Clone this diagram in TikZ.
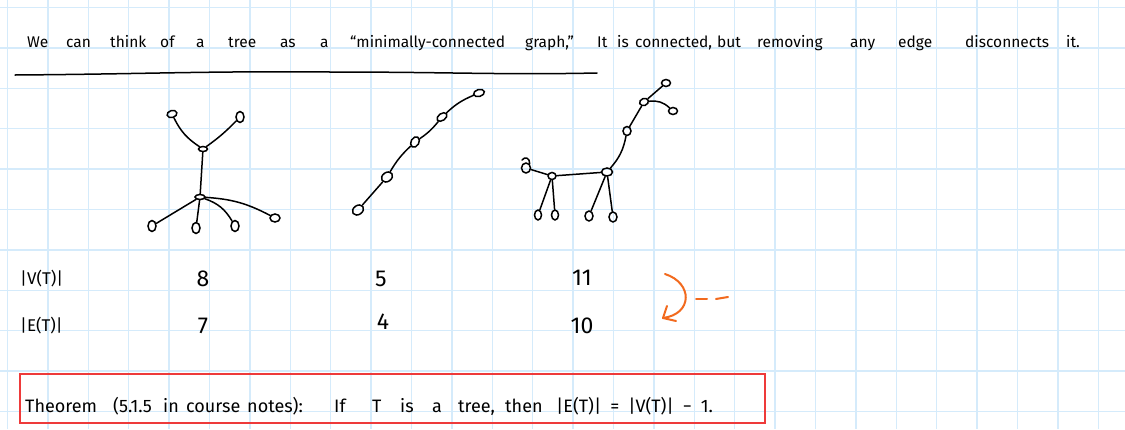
\documentclass[tikz,border=0pt]{standalone}
\usepackage{fontspec}
\setmainfont{Fira Sans}
\usetikzlibrary{shapes.geometric}
\definecolor{gridblue}{HTML}{D5EBFB}
\definecolor{penorange}{HTML}{F26A1E}
\definecolor{boxred}{HTML}{EE3A3A}
\begin{document}
\begin{tikzpicture}[x=1pt,y=-1pt,
  gridline/.style={draw=gridblue,line width=1.3pt},
  vtx/.style={draw,ellipse,line width=1.5pt,minimum width=9pt,minimum height=6pt,inner sep=0pt},
  edge/.style={line width=1.5pt,line cap=round},
  word/.style={anchor=base west,inner sep=0pt,font=\fontsize{15.5}{17}\selectfont},
  rowlabel/.style={anchor=west,inner sep=0pt,font=\fontsize{17}{19}\selectfont},
  digit/.style={anchor=center,inner sep=0pt,font=\fontsize{23}{25}\selectfont},
  thm/.style={anchor=base west,inner sep=0pt,font=\fontsize{18}{20}\selectfont},
  orangepen/.style={draw=penorange,line width=2pt,line cap=round,line join=round}]
\useasboundingbox (0,0) rectangle (1125,429);
\fill[white] (0,0) rectangle (1125,429);
% grid
\foreach \i in {0,...,27} \draw[gridline] ({7.5+40.4*\i},0) -- ({7.5+40.4*\i},429);
\foreach \j in {0,...,10} \draw[gridline] (0,{7.5+40.4*\j}) -- (1125,{7.5+40.4*\j});

% title sentence
\node[word] (w1) at (27,47) {We};
\node[word] (w2) at (66,47) {can};
\node[word] (w3) at (110,47) {think};
\node[word] (w4) at (160,47) {of};
\node[word] (w5) at (196,47) {a};
\node[word] (w6) at (228,47) {tree};
\node[word] (w7) at (280,47) {as};
\node[word] (w8) at (320,47) {a};
\node[word] (w9) at (350,47) {“minimally-connected};
\node[word] (w10) at (525,47) {graph,”};
\node[word] (w11) at (597,47) {It};
\node[word] (w12) at (617,47) {is};
\node[word] (w13) at (635,47) {connected,};
\node[word] (w14) at (717,47) {but};
\node[word] (w15) at (757,47) {removing};
\node[word] (w16) at (850,47) {any};
\node[word] (w17) at (898,47) {edge};
\node[word] (w18) at (965,47) {disconnects};
\node[word] (w19) at (1066,47) {it.};
\draw[line width=1.5pt,line cap=round] (15,75) .. controls (150,74) and (200,71) .. (330,72) .. controls (450,72) and (500,75) .. (597,73);

% tree 1
\node[vtx,rotate=15,minimum width=10pt,minimum height=7pt] (a1) at (172,114) {};
\node[vtx,minimum width=8pt,minimum height=11pt] (a2) at (240,117) {};
\node[vtx,minimum width=9pt,minimum height=5pt] (a3) at (203,149) {};
\node[vtx,minimum width=10pt,minimum height=5pt] (a4) at (200,197) {};
\node[vtx,minimum width=8pt,minimum height=11pt] (a5) at (152,226) {};
\node[vtx,minimum width=8pt,minimum height=11pt] (a6) at (196,228) {};
\node[vtx,minimum width=8pt,minimum height=11pt] (a7) at (235,226) {};
\node[vtx,minimum width=10pt,minimum height=8pt] (a8) at (275,218) {};
\draw[edge] (a1) to[bend right=15] (a3);
\draw[edge] (a2) to[bend left=5] (a3);
\draw[edge] (a3) -- (a4);
\draw[edge] (a4) -- (a5);
\draw[edge] (a4) -- (a6);
\draw[edge] (a4) to[bend left=20] (a7);
\draw[edge] (a4) to[bend left=12] (a8);

% tree 2
\node[vtx,rotate=35,minimum width=12pt,minimum height=9pt] (b1) at (358,210) {};
\node[vtx,rotate=35,minimum width=12pt,minimum height=9pt] (b2) at (387,177) {};
\node[vtx,rotate=60,minimum width=11pt,minimum height=8pt] (b3) at (415,142) {};
\node[vtx,rotate=35,minimum width=11pt,minimum height=7pt] (b4) at (442,117) {};
\node[vtx,rotate=15,minimum width=11pt,minimum height=7pt] (b5) at (479,93) {};
\draw[edge] (b1) -- (b2);
\draw[edge] (b2) to[bend left=8] (b3);
\draw[edge] (b3) to[bend right=8] (b4);
\draw[edge] (b4) to[bend left=10] (b5);

% tree 3
\node[vtx,minimum width=9pt,minimum height=7pt] (c1) at (666,83) {};
\node[vtx,rotate=20,minimum width=9pt,minimum height=7pt] (c2) at (644,102) {};
\node[vtx,minimum width=9pt,minimum height=7pt] (c3) at (673,111) {};
\node[vtx,minimum width=8pt,minimum height=9pt] (c4) at (627,131) {};
\node[vtx,minimum width=11pt,minimum height=8pt] (c5) at (607,172) {};
\node[vtx,minimum width=8pt,minimum height=7pt] (c6) at (552,176) {};
\node[vtx,minimum width=9pt,minimum height=10pt] (c7) at (526,168) {};
\node[vtx,minimum width=7pt,minimum height=10pt] (c8) at (538,215) {};
\node[vtx,minimum width=7pt,minimum height=10pt] (c9) at (555,215) {};
\node[vtx,minimum width=8pt,minimum height=10pt] (c10) at (589,216) {};
\node[vtx,minimum width=8pt,minimum height=10pt] (c11) at (613,217) {};
\draw[edge] (522,160) .. controls (525,156) and (530,158) .. (c7.north east);
\draw[edge] (c7) -- (c6);
\draw[edge] (c6) -- (c5);
\draw[edge] (c5) to[bend right=15] (c4);
\draw[edge] (c4) -- (c2);
\draw[edge] (c2) -- (c1);
\draw[edge] (c2) to[bend left=25] (c3);
\draw[edge] (c6) -- (c8);
\draw[edge] (c6) -- (c9);
\draw[edge] (c5) -- (c10);
\draw[edge] (c5) -- (c11);

% counts
\node[rowlabel] (vl) at (20,279) {|V(T)|};
\node[rowlabel] (el) at (20,326) {|E(T)|};
\node[digit] (n1) at (203,279) {8};
\node[digit] (n2) at (203,326) {7};
\node[digit] (n3) at (381,279) {5};
\node[digit] (n4) at (383,322) {4};
\node[digit] (n5) at (582,278) {11};
\node[digit] (n6) at (582,326) {10};

% orange arrow
\coordinate (o1) at (665,274);
\coordinate (o2) at (663,318);
\draw[orangepen] (o1) .. controls (693,283) and (693,314) .. (o2);
\draw[orangepen] (667,306) -- (o2) -- (676,321);
\draw[orangepen] (696,299) -- (707,299);
\draw[orangepen] (716,299) -- (728,297);

% theorem box
\draw[draw=boxred,line width=2.7pt] (20,374) rectangle (765,423);
\node[thm] (t1) at (25,412) {Theorem};
\node[thm] (t2) at (113,412) {(5.1.5};
\node[thm] (t3) at (163,412) {in};
\node[thm] (t4) at (186,412) {course};
\node[thm] (t5) at (247,412) {notes):};
\node[thm] (t6) at (334,412) {If};
\node[thm] (t7) at (372,412) {T};
\node[thm] (t8) at (400,412) {is};
\node[thm] (t9) at (432,412) {a};
\node[thm] (t10) at (458,412) {tree,};
\node[thm] (t11) at (505,412) {then};
\node[thm] (t12) at (556,412) {|E(T)|\enspace=\enspace|V(T)|\enspace−\enspace1.};
\end{tikzpicture}
\end{document}
